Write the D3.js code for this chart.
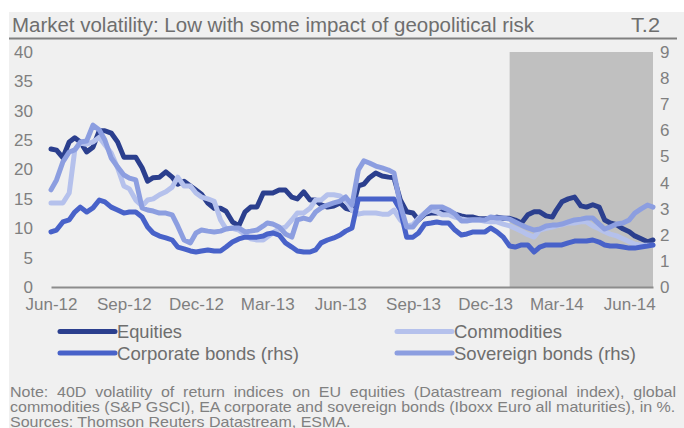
<!DOCTYPE html>
<html>
<head>
<meta charset="utf-8">
<script src="https://cdn.jsdelivr.net/npm/d3@7"></script>
<style>
  body { margin: 0; background: #fff; }
  svg { display: block; }
  text { font-family: "Liberation Sans", Arial, sans-serif; }
</style>
</head>
<body>
<div id="chart"></div>
<script>
// Market volatility, 40D volatility in % (equities/commodities lhs, bonds rhs)
// weekly observations: 1st, 8th, 16th and 24th of each month

const months = [
  '2012-06', '2012-07', '2012-08', '2012-09', '2012-10', '2012-11', '2012-12',
  '2013-01', '2013-02', '2013-03', '2013-04', '2013-05', '2013-06', '2013-07',
  '2013-08', '2013-09', '2013-10', '2013-11', '2013-12', '2014-01', '2014-02',
  '2014-03', '2014-04', '2014-05', '2014-06'
];
const obsDays = ['01', '08', '16', '24'];
const lastDate = '2014-07-01';

const equities = [
  23.5, 23.3, 22.0, 24.7,  25.4, 24.7, 23.0, 23.8,  26.6, 26.6, 26.2, 24.7,
  22.1, 22.1, 22.1, 20.3,  18.0, 18.6, 18.7, 19.6,  18.7, 17.5, 18.0, 17.2,
  16.5, 15.8, 14.3, 13.4,  13.4, 12.9, 11.1, 10.4,  12.8, 13.6, 13.6, 16.0,
  16.0, 16.0, 16.5, 16.5,  15.3, 15.0, 16.2, 14.8,  14.8, 14.0, 13.6, 13.8,
  14.3, 13.4, 13.1, 17.2,  17.5, 18.6, 19.4, 18.9,  18.7, 18.6, 14.8, 12.8,
  12.6, 11.4, 12.4, 12.6,  12.6, 12.8, 12.6, 12.4,  12.1, 11.9, 11.9, 11.6,
  11.6, 11.7, 11.9, 11.7,  11.7, 11.4, 10.9, 12.3,  12.8, 12.8, 12.1, 11.9,
  13.1, 14.5, 15.0, 15.3,  13.8, 13.6, 14.0, 13.6,  11.4, 10.9, 10.6, 9.9,
  9.4, 8.7, 8.2, 7.7,  8.0
];

const commodities = [
  14.3, 14.3, 14.3, 16.0,  23.3, 24.5, 24.3, 24.7,  25.5, 24.2, 22.8, 20.3,
  17.2, 16.7, 14.8, 13.8,  14.8, 15.0, 15.7, 16.2,  17.0, 18.7, 17.2, 17.2,
  16.0, 15.3, 15.0, 14.6,  11.4, 9.9, 10.0, 9.7,  8.9, 8.2, 8.0, 8.0,
  8.5, 9.2, 9.9, 10.2,  11.4, 12.6, 12.6, 13.4,  14.8, 14.8, 15.7, 15.7,
  15.5, 14.8, 13.1, 12.4,  12.6, 12.6, 12.6, 12.4,  12.4, 13.1, 11.4, 10.4,
  10.6, 11.7, 12.6, 13.1,  12.8, 12.3, 12.3, 11.9,  11.6, 11.4, 11.4, 11.4,
  11.2, 11.1, 11.1, 10.7,  10.4, 10.0, 9.5, 8.9,  8.5, 9.7, 10.0, 10.2,
  10.4, 10.6, 10.9, 10.9,  11.1, 11.1, 10.4, 9.9,  9.4, 9.0, 8.7, 8.2,
  7.7, 7.3, 7.1, 7.1,  7.1
];

const corporateBonds = [
  2.11, 2.18, 2.49, 2.57,  2.87, 3.06, 2.87, 3.03,  3.33, 3.26, 3.06, 2.95,
  2.83, 2.87, 2.87, 2.68,  2.30, 2.07, 1.95, 1.88,  1.80, 1.53, 1.46, 1.38,
  1.34, 1.38, 1.42, 1.38,  1.38, 1.53, 1.72, 1.84,  1.91, 1.91, 1.91, 1.95,
  2.03, 2.07, 1.99, 1.69,  1.53, 1.38, 1.34, 1.34,  1.42, 1.69, 1.80, 1.88,
  1.99, 2.14, 2.26, 3.37,  3.37, 3.37, 3.37, 3.37,  3.37, 3.37, 2.95, 1.91,
  1.91, 2.07, 2.41, 2.45,  2.49, 2.45, 2.45, 2.18,  1.99, 2.03, 2.11, 2.11,
  2.11, 2.26, 2.11, 1.91,  1.57, 1.53, 1.61, 1.61,  1.34, 1.53, 1.61, 1.61,
  1.61, 1.61, 1.69, 1.76,  1.76, 1.76, 1.80, 1.72,  1.61, 1.57, 1.57, 1.53,
  1.49, 1.49, 1.53, 1.57,  1.61
];

const sovereignBonds = [
  3.72, 4.10, 4.79, 5.17,  5.25, 5.55, 5.59, 6.20,  6.01, 5.63, 4.94, 4.60,
  4.29, 4.17, 4.10, 3.03,  2.95, 2.91, 2.83, 2.83,  2.76, 2.34, 1.80, 1.69,
  2.07, 2.18, 2.14, 2.11,  2.14, 2.22, 2.26, 2.26,  2.11, 2.14, 2.18, 2.34,
  2.45, 2.41, 2.30, 2.03,  1.91, 2.57, 2.64, 2.57,  2.87, 3.03, 3.14, 3.22,
  3.29, 3.45, 3.14, 4.48,  4.83, 4.75, 4.63, 4.56,  4.48, 4.37, 3.14, 2.30,
  2.30, 2.57, 2.83, 3.06,  3.06, 3.06, 2.95, 2.80,  2.53, 2.53, 2.57, 2.57,
  2.57, 2.68, 2.64, 2.64,  2.60, 2.49, 2.37, 2.26,  2.18, 2.22, 2.34, 2.37,
  2.37, 2.41, 2.49, 2.57,  2.60, 2.64, 2.64, 2.41,  2.22, 2.30, 2.41, 2.45,
  2.57, 2.83, 2.99, 3.14,  3.06
];

const leftTicks = [0, 5, 10, 15, 20, 25, 30, 35, 40];
const rightTicks = [0, 1, 2, 3, 4, 5, 6, 7, 8, 9];
const shadedPeriod = ['2014-01-01', '2014-07-01'];

const series = [
  { name: 'Equities', values: equities, axis: 'left', color: '#2b3f8e', legendWidth: 65 },
  { name: 'Commodities', values: commodities, axis: 'left', color: '#b5c1ec', legendWidth: 108 },
  { name: 'Corporate bonds (rhs)', values: corporateBonds, axis: 'right', color: '#4862c9', legendWidth: 182 },
  { name: 'Sovereign bonds (rhs)', values: sovereignBonds, axis: 'right', color: '#8c9ee0', legendWidth: 182 }
];

const parse = d3.timeParse('%Y-%m-%d');
const dates = [];
months.forEach(m => obsDays.forEach(d => dates.push(parse(`${m}-${d}`))));
dates.push(parse(lastDate));

const W = 684, H = 428;
const margin = { top: 52, right: 31, bottom: 141, left: 51 };
const width = W - margin.left - margin.right;
const height = H - margin.top - margin.bottom;

const svg = d3.select('#chart').append('svg')
  .attr('width', W)
  .attr('height', H);

// panel background
svg.append('rect')
  .attr('x', 9).attr('y', 12)
  .attr('width', W - 9).attr('height', H - 12)
  .attr('fill', '#f0f0f0');

svg.append('text')
  .attr('x', 12).attr('y', 32)
  .attr('font-size', 20.5)
  .attr('fill', '#6e6e6e')
  .attr('textLength', 522)
  .attr('lengthAdjust', 'spacingAndGlyphs')
  .text('Market volatility: Low with some impact of geopolitical risk');

svg.append('text')
  .attr('x', 631).attr('y', 32)
  .attr('font-size', 20.5)
  .attr('fill', '#6e6e6e')
  .attr('textLength', 29)
  .attr('lengthAdjust', 'spacingAndGlyphs')
  .text('T.2');

svg.append('line')
  .attr('x1', 9).attr('x2', 677)
  .attr('y1', 38.5).attr('y2', 38.5)
  .attr('stroke', '#808080')
  .attr('stroke-width', 2);

const g = svg.append('g')
  .attr('transform', `translate(${margin.left},${margin.top})`);

const x = d3.scaleTime()
  .domain([dates[0], dates[dates.length - 1]])
  .range([0, width]);
const yLeft = d3.scaleLinear().domain([0, 40]).range([height, 0]);
const yRight = d3.scaleLinear().domain([0, 9]).range([height, 0]);

// shaded recent period
g.append('rect')
  .attr('x', x(parse(shadedPeriod[0])))
  .attr('y', yLeft(40))
  .attr('width', x(parse(shadedPeriod[1])) - x(parse(shadedPeriod[0])))
  .attr('height', height)
  .attr('fill', '#c0c0c0');

const leftAxis = g.append('g')
  .call(d3.axisLeft(yLeft).tickValues(leftTicks).tickSize(0).tickPadding(18));
const rightAxis = g.append('g')
  .attr('transform', `translate(${width},0)`)
  .call(d3.axisRight(yRight).tickValues(rightTicks).tickSize(0).tickPadding(7));

const xAxis = g.append('g')
  .attr('transform', `translate(0,${height})`)
  .call(d3.axisBottom(x)
    .tickValues(d3.timeMonth.range(parse('2012-06-01'), parse('2014-06-02'), 3))
    .tickFormat(d3.timeFormat('%b-%y'))
    .tickSize(0)
    .tickSizeOuter(0)
    .tickPadding(11));

[leftAxis, rightAxis, xAxis].forEach(a => {
  a.selectAll('text')
    .attr('font-size', 17)
    .attr('fill', '#7f7f7f')
    .attr('font-family', '"Liberation Sans", Arial, sans-serif');
});
leftAxis.select('.domain').remove();
rightAxis.select('.domain').remove();
xAxis.select('.domain')
  .attr('stroke', '#8c8c8c')
  .attr('stroke-width', 2);

// lines
series.forEach(s => {
  const yScale = s.axis === 'left' ? yLeft : yRight;
  const line = d3.line()
    .x((d, i) => x(dates[i]))
    .y(d => yScale(d));
  g.append('path')
    .datum(s.values)
    .attr('fill', 'none')
    .attr('stroke', s.color)
    .attr('stroke-width', 5)
    .attr('stroke-linejoin', 'round')
    .attr('stroke-linecap', 'round')
    .attr('d', line);
});

// legend, two columns
const legend = svg.append('g');
const legendPos = [
  { x: 60, y: 331.5 }, { x: 397, y: 331.5 },
  { x: 60, y: 353 }, { x: 397, y: 353 }
];
series.forEach((s, i) => {
  const p = legendPos[i];
  legend.append('line')
    .attr('x1', p.x).attr('x2', p.x + 55)
    .attr('y1', p.y).attr('y2', p.y)
    .attr('stroke', s.color)
    .attr('stroke-width', 5)
    .attr('stroke-linecap', 'round');
  legend.append('text')
    .attr('x', p.x + 57)
    .attr('y', p.y + 6.5)
    .attr('font-size', 18.5)
    .attr('fill', '#6e6e6e')
    .attr('textLength', s.legendWidth)
    .attr('lengthAdjust', 'spacingAndGlyphs')
    .text(s.name);
});

// note: condensed so that the second line fills the width, first line justified
const noteLines = [
  'Note: 40D volatility of return indices on EU equities (Datastream regional index), global',
  'commodities (S&P GSCI), EA corporate and sovereign bonds (Iboxx Euro all maturities), in %.',
  'Sources: Thomson Reuters Datastream, ESMA.'
];
const noteWidth = 666;
const note = svg.append('g');
const noteTexts = noteLines.map((t, i) => note.append('text')
  .attr('x', 0)
  .attr('y', 397 + i * 15)
  .attr('font-size', 14.5)
  .attr('fill', '#808080')
  .text(t));
const noteScale = noteWidth / noteTexts[1].node().getComputedTextLength();
note.attr('transform', `translate(10,0) scale(${noteScale},1)`);
const first = noteTexts[0];
const firstNatural = first.node().getComputedTextLength();
const firstSpaces = (noteLines[0].match(/ /g) || []).length;
const target = noteWidth / noteScale;
if (firstNatural < target) {
  first.attr('word-spacing', (target - firstNatural) / firstSpaces);
}
</script>
</body>
</html>
